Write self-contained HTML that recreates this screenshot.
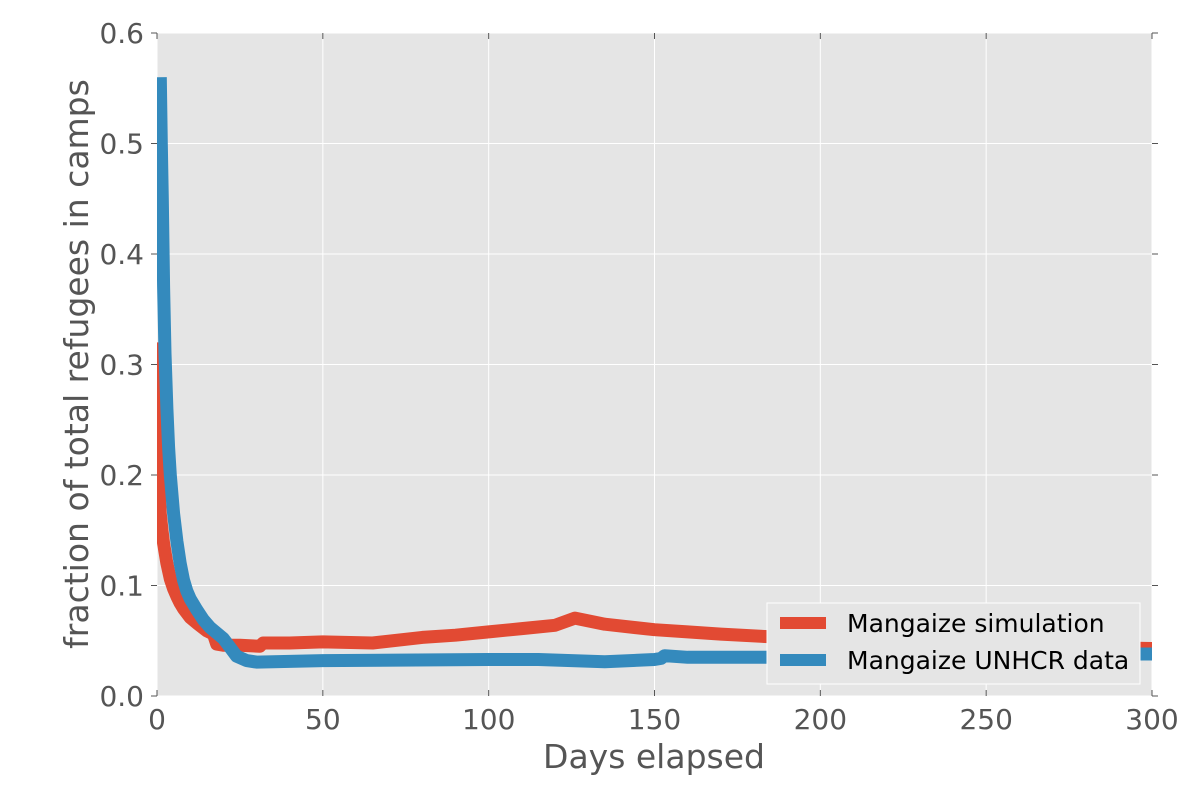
<!DOCTYPE html>
<html><head><meta charset="utf-8"><style>
body{margin:0;background:#fff;}
svg{display:block;font-family:"DejaVu Sans","Liberation Sans",sans-serif;}
</style></head><body>
<svg id="chart" width="1200" height="800">
<defs><clipPath id="clip"><rect x="157" y="33" width="995" height="663"/></clipPath></defs>
<rect x="157" y="33" width="995" height="663" fill="#e5e5e5"/>
<g id="grid"></g><g id="ticks"></g>
<g id="lines" clip-path="url(#clip)"></g>
<text x="654" y="768" text-anchor="middle" font-size="33" fill="#555">Days elapsed</text>
<text transform="translate(88,364) rotate(-90)" text-anchor="middle" font-size="33" fill="#555">fraction of total refugees in camps</text>
<g>
<rect x="767" y="603" width="373" height="81" fill="#e5e5e5" stroke="#fff" stroke-width="1"/>
<g>
<line x1="780" y1="623" x2="826" y2="623" stroke="#E24A33" stroke-width="12"/>
<text x="847" y="632" font-size="25" fill="#000">Mangaize simulation</text></g>
<g>
<line x1="780" y1="660" x2="826" y2="660" stroke="#348ABD" stroke-width="12"/>
<text x="847" y="669" font-size="25" fill="#000">Mangaize UNHCR data</text></g>
</g>
</svg>
<script>
const xTicks=[0,50,100,150,200,250,300];
const yTicks=[0.0,0.1,0.2,0.3,0.4,0.5,0.6];
const simDays=[0,0.3,0.6,1,1.5,2,3,4,5,6,7,8,10,12,15,17,18,20,25,31,32,40,50,65,80,90,100,110,120,126,135,150,160,170,185,220,250,280,300];
const simVals=[0.32,0.23,0.19,0.165,0.15,0.138,0.12,0.106,0.097,0.09,0.084,0.079,0.071,0.066,0.059,0.056,0.047,0.046,0.046,0.045,0.048,0.048,0.049,0.048,0.053,0.055,0.058,0.061,0.064,0.0705,0.065,0.06,0.058,0.056,0.0536,0.05,0.047,0.044,0.043];
const dataDays=[1,1.3,1.6,2,2.4,3,3.5,4,5,6,7,8,9,10,12,14,16,18,20,22,24,27,30,35,50,100,115,135,150,152,153,160,185,250,300];
const dataVals=[0.56,0.5,0.45,0.37,0.31,0.26,0.225,0.2,0.165,0.14,0.12,0.105,0.095,0.088,0.078,0.069,0.062,0.057,0.052,0.044,0.036,0.032,0.0307,0.031,0.032,0.033,0.033,0.031,0.033,0.034,0.0365,0.035,0.035,0.037,0.038];
const X=d=>157+d*(995/300), Y=v=>696-v*(663/0.6);
const NS="http://www.w3.org/2000/svg";
const grid=document.getElementById('grid'),ticks=document.getElementById('ticks'),lines=document.getElementById('lines');
function mk(tag,attrs,parent){const e=document.createElementNS(NS,tag);for(const k in attrs)e.setAttribute(k,attrs[k]);parent.appendChild(e);return e;}
xTicks.forEach(t=>{
 const g=mk('line',{x1:X(t),x2:X(t),y1:33,y2:696,stroke:'#fff','stroke-width':1},grid);
 
 
 mk('line',{x1:X(t),x2:X(t),y1:696,y2:690,stroke:'#555'},ticks);
 mk('line',{x1:X(t),x2:X(t),y1:33,y2:39,stroke:'#555'},ticks);
 const l=mk('text',{x:X(t),y:729,'text-anchor':'middle','font-size':28,fill:'#555'},ticks);
 l.textContent=t;
 
 
});
yTicks.forEach(t=>{
 const g=mk('line',{x1:157,x2:1152,y1:Y(t),y2:Y(t),stroke:'#fff','stroke-width':1},grid);
 
 
 mk('line',{x1:151,x2:157,y1:Y(t),y2:Y(t),stroke:'#555'},ticks);
 mk('line',{x1:1152,x2:1158,y1:Y(t),y2:Y(t),stroke:'#555'},ticks);
 const l=mk('text',{x:144,y:Y(t)+10,'text-anchor':'end','font-size':28,fill:'#555'},ticks);
 l.textContent=t.toFixed(1);
 
 
});
function path(ds,vs){return ds.map((d,i)=>(i?'L':'M')+X(d).toFixed(1)+','+Y(vs[i]).toFixed(1)).join('');}
const s=mk('path',{d:path(simDays,simVals),fill:'none',stroke:'#E24A33','stroke-width':13,'stroke-linejoin':'round'},lines);


const u=mk('path',{d:path(dataDays,dataVals),fill:'none',stroke:'#348ABD','stroke-width':13,'stroke-linejoin':'round'},lines);


</script>
</body></html>
